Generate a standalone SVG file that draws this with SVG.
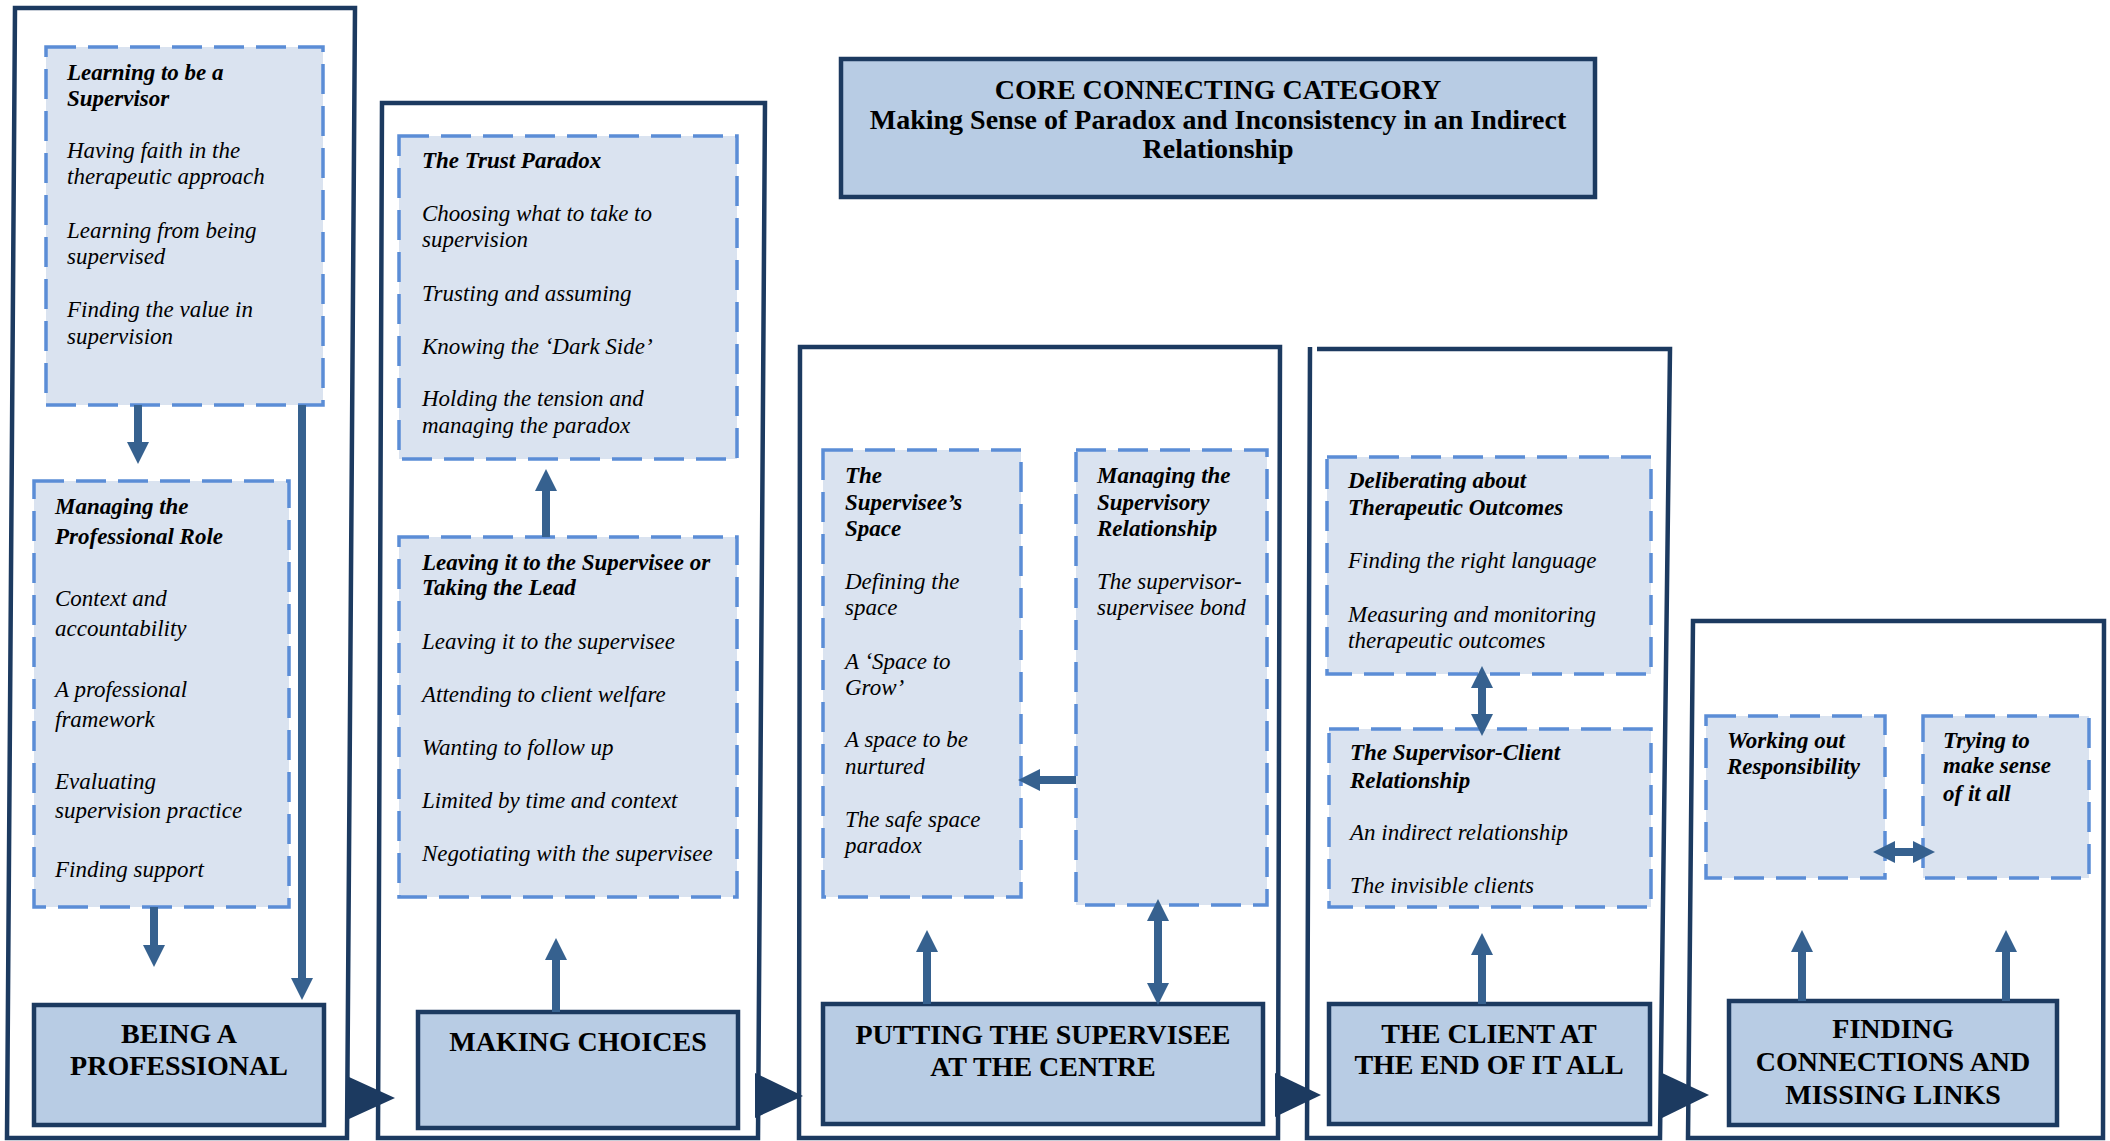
<svg xmlns="http://www.w3.org/2000/svg" width="2110" height="1141" viewBox="0 0 2110 1141">
  <defs>
    <style>
      .frame { fill: none; stroke: #1C3A60; stroke-width: 4.5; stroke-linejoin: miter; }
      .sub { fill: #DAE3F0; stroke: #5B8DD6; stroke-width: 3.5; stroke-dasharray: 30 12; }
      .cat { fill: #B8CCE4; stroke: #1C3A60; stroke-width: 4.5; }
      .link { stroke: #36618F; stroke-width: 8; fill: none; }
      .flow { fill: #1C3A60; }
      text { font-family: "Liberation Serif", "Times New Roman", serif; fill: #000; }
      .hd { font-size: 23px; font-weight: bold; font-style: italic; }
      .it { font-size: 23px; font-style: italic; }
      .tt { font-size: 28px; font-weight: bold; text-anchor: middle; }
    </style>
    <marker id="head" viewBox="0 0 22 22" markerWidth="22" markerHeight="22" refX="0" refY="11" markerUnits="userSpaceOnUse" orient="auto-start-reverse">
      <path d="M0,0 L22,11 L0,22 Z" fill="#36618F"/>
    </marker>
  </defs>

  <rect width="2110" height="1141" fill="#FFFFFF"/>

  <!-- Column frames -->
  <g id="frames">
    <path class="frame" d="M15,8 L355,8 L347,1138 L7,1138 Z"/>
    <path class="frame" d="M382,103 L765,103 L758,1138 L378,1138 Z"/>
    <path class="frame" d="M800,347 L1280,347 L1278,1138 L799,1138 Z"/>
    <path class="frame" d="M1317,349 L1670,349 L1660,1138 L1307,1138 L1310,347"/>
    <path class="frame" d="M1693,621 L2104,621 L2103,1138 L1688,1138 Z"/>
  </g>

  <!-- Core category -->
  <g id="core">
    <rect class="cat" x="841" y="59" width="754" height="138"/>
    <text class="tt" x="1218" y="99">CORE CONNECTING CATEGORY</text>
    <text class="tt" x="1218" y="129">Making Sense of Paradox and Inconsistency in an Indirect</text>
    <text class="tt" x="1218" y="158">Relationship</text>
  </g>

  <!-- Column 1 -->
  <g id="learning-to-be-a-supervisor">
    <rect class="sub" x="46" y="47" width="277" height="358"/>
    <text class="hd" x="67" y="80">Learning to be a</text>
    <text class="hd" x="67" y="106">Supervisor</text>
    <text class="it" x="67" y="158">Having faith in the</text>
    <text class="it" x="67" y="184">therapeutic approach</text>
    <text class="it" x="67" y="238">Learning from being</text>
    <text class="it" x="67" y="264">supervised</text>
    <text class="it" x="67" y="317">Finding the value in</text>
    <text class="it" x="67" y="344">supervision</text>
  </g>
  <g id="managing-the-professional-role">
    <rect class="sub" x="34" y="481" width="255" height="426"/>
    <text class="hd" x="55" y="514">Managing the</text>
    <text class="hd" x="55" y="544">Professional Role</text>
    <text class="it" x="55" y="606">Context and</text>
    <text class="it" x="55" y="636">accountability</text>
    <text class="it" x="55" y="697">A professional</text>
    <text class="it" x="55" y="727">framework</text>
    <text class="it" x="55" y="789">Evaluating</text>
    <text class="it" x="55" y="818">supervision practice</text>
    <text class="it" x="55" y="877">Finding support</text>
  </g>
  <g id="being-a-professional">
    <rect class="cat" x="34" y="1005" width="290" height="120"/>
    <text class="tt" x="179" y="1043">BEING A</text>
    <text class="tt" x="179" y="1075">PROFESSIONAL</text>
  </g>

  <!-- Column 2 -->
  <g id="the-trust-paradox">
    <rect class="sub" x="399" y="136" width="338" height="323"/>
    <text class="hd" x="422" y="168">The Trust Paradox</text>
    <text class="it" x="422" y="221">Choosing what to take to</text>
    <text class="it" x="422" y="247">supervision</text>
    <text class="it" x="422" y="301">Trusting and assuming</text>
    <text class="it" x="422" y="354">Knowing the ‘Dark Side’</text>
    <text class="it" x="422" y="406">Holding the tension and</text>
    <text class="it" x="422" y="433">managing the paradox</text>
  </g>
  <g id="leaving-it-or-taking-the-lead">
    <rect class="sub" x="399" y="537" width="338" height="360"/>
    <text class="hd" x="422" y="570">Leaving it to the Supervisee or</text>
    <text class="hd" x="422" y="595">Taking the Lead</text>
    <text class="it" x="422" y="649">Leaving it to the supervisee</text>
    <text class="it" x="422" y="702">Attending to client welfare</text>
    <text class="it" x="422" y="755">Wanting to follow up</text>
    <text class="it" x="422" y="808">Limited by time and context</text>
    <text class="it" x="422" y="861">Negotiating with the supervisee</text>
  </g>
  <g id="making-choices">
    <rect class="cat" x="418" y="1012" width="320" height="116"/>
    <text class="tt" x="578" y="1051">MAKING CHOICES</text>
  </g>

  <!-- Column 3 -->
  <g id="the-supervisees-space">
    <rect class="sub" x="823" y="450" width="198" height="447"/>
    <text class="hd" x="845" y="483">The</text>
    <text class="hd" x="845" y="510">Supervisee’s</text>
    <text class="hd" x="845" y="536">Space</text>
    <text class="it" x="845" y="589">Defining the</text>
    <text class="it" x="845" y="615">space</text>
    <text class="it" x="845" y="669">A ‘Space to</text>
    <text class="it" x="845" y="695">Grow’</text>
    <text class="it" x="845" y="747">A space to be</text>
    <text class="it" x="845" y="774">nurtured</text>
    <text class="it" x="845" y="827">The safe space</text>
    <text class="it" x="845" y="853">paradox</text>
  </g>
  <g id="managing-the-supervisory-relationship">
    <rect class="sub" x="1076" y="450" width="191" height="455"/>
    <text class="hd" x="1097" y="483">Managing the</text>
    <text class="hd" x="1097" y="510">Supervisory</text>
    <text class="hd" x="1097" y="536">Relationship</text>
    <text class="it" x="1097" y="589">The supervisor-</text>
    <text class="it" x="1097" y="615">supervisee bond</text>
  </g>
  <g id="putting-the-supervisee-at-the-centre">
    <rect class="cat" x="823" y="1004" width="440" height="120"/>
    <text class="tt" x="1043" y="1044">PUTTING THE SUPERVISEE</text>
    <text class="tt" x="1043" y="1076">AT THE CENTRE</text>
  </g>

  <!-- Column 4 -->
  <g id="deliberating-about-therapeutic-outcomes">
    <rect class="sub" x="1327" y="457" width="324" height="217"/>
    <text class="hd" x="1348" y="488">Deliberating about</text>
    <text class="hd" x="1348" y="515">Therapeutic Outcomes</text>
    <text class="it" x="1348" y="568">Finding the right language</text>
    <text class="it" x="1348" y="622">Measuring and monitoring</text>
    <text class="it" x="1348" y="648">therapeutic outcomes</text>
  </g>
  <g id="the-supervisor-client-relationship">
    <rect class="sub" x="1329" y="729" width="322" height="178"/>
    <text class="hd" x="1350" y="760">The Supervisor-Client</text>
    <text class="hd" x="1350" y="788">Relationship</text>
    <text class="it" x="1350" y="840">An indirect relationship</text>
    <text class="it" x="1350" y="893">The invisible clients</text>
  </g>
  <g id="the-client-at-the-end-of-it-all">
    <rect class="cat" x="1329" y="1004" width="321" height="120"/>
    <text class="tt" x="1489" y="1043">THE CLIENT AT</text>
    <text class="tt" x="1489" y="1074">THE END OF IT ALL</text>
  </g>

  <!-- Column 5 -->
  <g id="working-out-responsibility">
    <rect class="sub" x="1706" y="716" width="179" height="162"/>
    <text class="hd" x="1727" y="748">Working out</text>
    <text class="hd" x="1727" y="774">Responsibility</text>
  </g>
  <g id="trying-to-make-sense">
    <rect class="sub" x="1923" y="716" width="166" height="162"/>
    <text class="hd" x="1943" y="748">Trying to</text>
    <text class="hd" x="1943" y="773">make sense</text>
    <text class="hd" x="1943" y="801">of it all</text>
  </g>
  <g id="finding-connections-and-missing-links">
    <rect class="cat" x="1729" y="1001" width="328" height="124"/>
    <text class="tt" x="1893" y="1038">FINDING</text>
    <text class="tt" x="1893" y="1071">CONNECTIONS AND</text>
    <text class="tt" x="1893" y="1104">MISSING LINKS</text>
  </g>

  <!-- Connectors -->
  <g id="connectors">
    <line class="link" x1="138" y1="405" x2="138" y2="442" marker-end="url(#head)"/>
    <line class="link" x1="302" y1="405" x2="302" y2="978" marker-end="url(#head)"/>
    <line class="link" x1="154" y1="907" x2="154" y2="945" marker-end="url(#head)"/>
    <line class="link" x1="556" y1="1012" x2="556" y2="960" marker-end="url(#head)"/>
    <line class="link" x1="546" y1="537" x2="546" y2="491" marker-end="url(#head)"/>
    <line class="link" x1="1076" y1="780" x2="1040" y2="780" marker-end="url(#head)"/>
    <line class="link" x1="927" y1="1004" x2="927" y2="952" marker-end="url(#head)"/>
    <line class="link" x1="1158" y1="921" x2="1158" y2="983" marker-start="url(#head)" marker-end="url(#head)"/>
    <line class="link" x1="1482" y1="688" x2="1482" y2="714" marker-start="url(#head)" marker-end="url(#head)"/>
    <line class="link" x1="1482" y1="1004" x2="1482" y2="955" marker-end="url(#head)"/>
    <line class="link" x1="1895" y1="852" x2="1913" y2="852" marker-start="url(#head)" marker-end="url(#head)"/>
    <line class="link" x1="1802" y1="1001" x2="1802" y2="952" marker-end="url(#head)"/>
    <line class="link" x1="2006" y1="1001" x2="2006" y2="952" marker-end="url(#head)"/>
    <!-- flow between columns -->
    <polygon class="flow" points="349,1077 349,1119 395,1098"/>
    <polygon class="flow" points="755,1073 755,1118 803,1096"/>
    <polygon class="flow" points="1275,1073 1275,1117 1321,1095"/>
    <polygon class="flow" points="1660,1072 1660,1119 1709,1095"/>
  </g>
</svg>
